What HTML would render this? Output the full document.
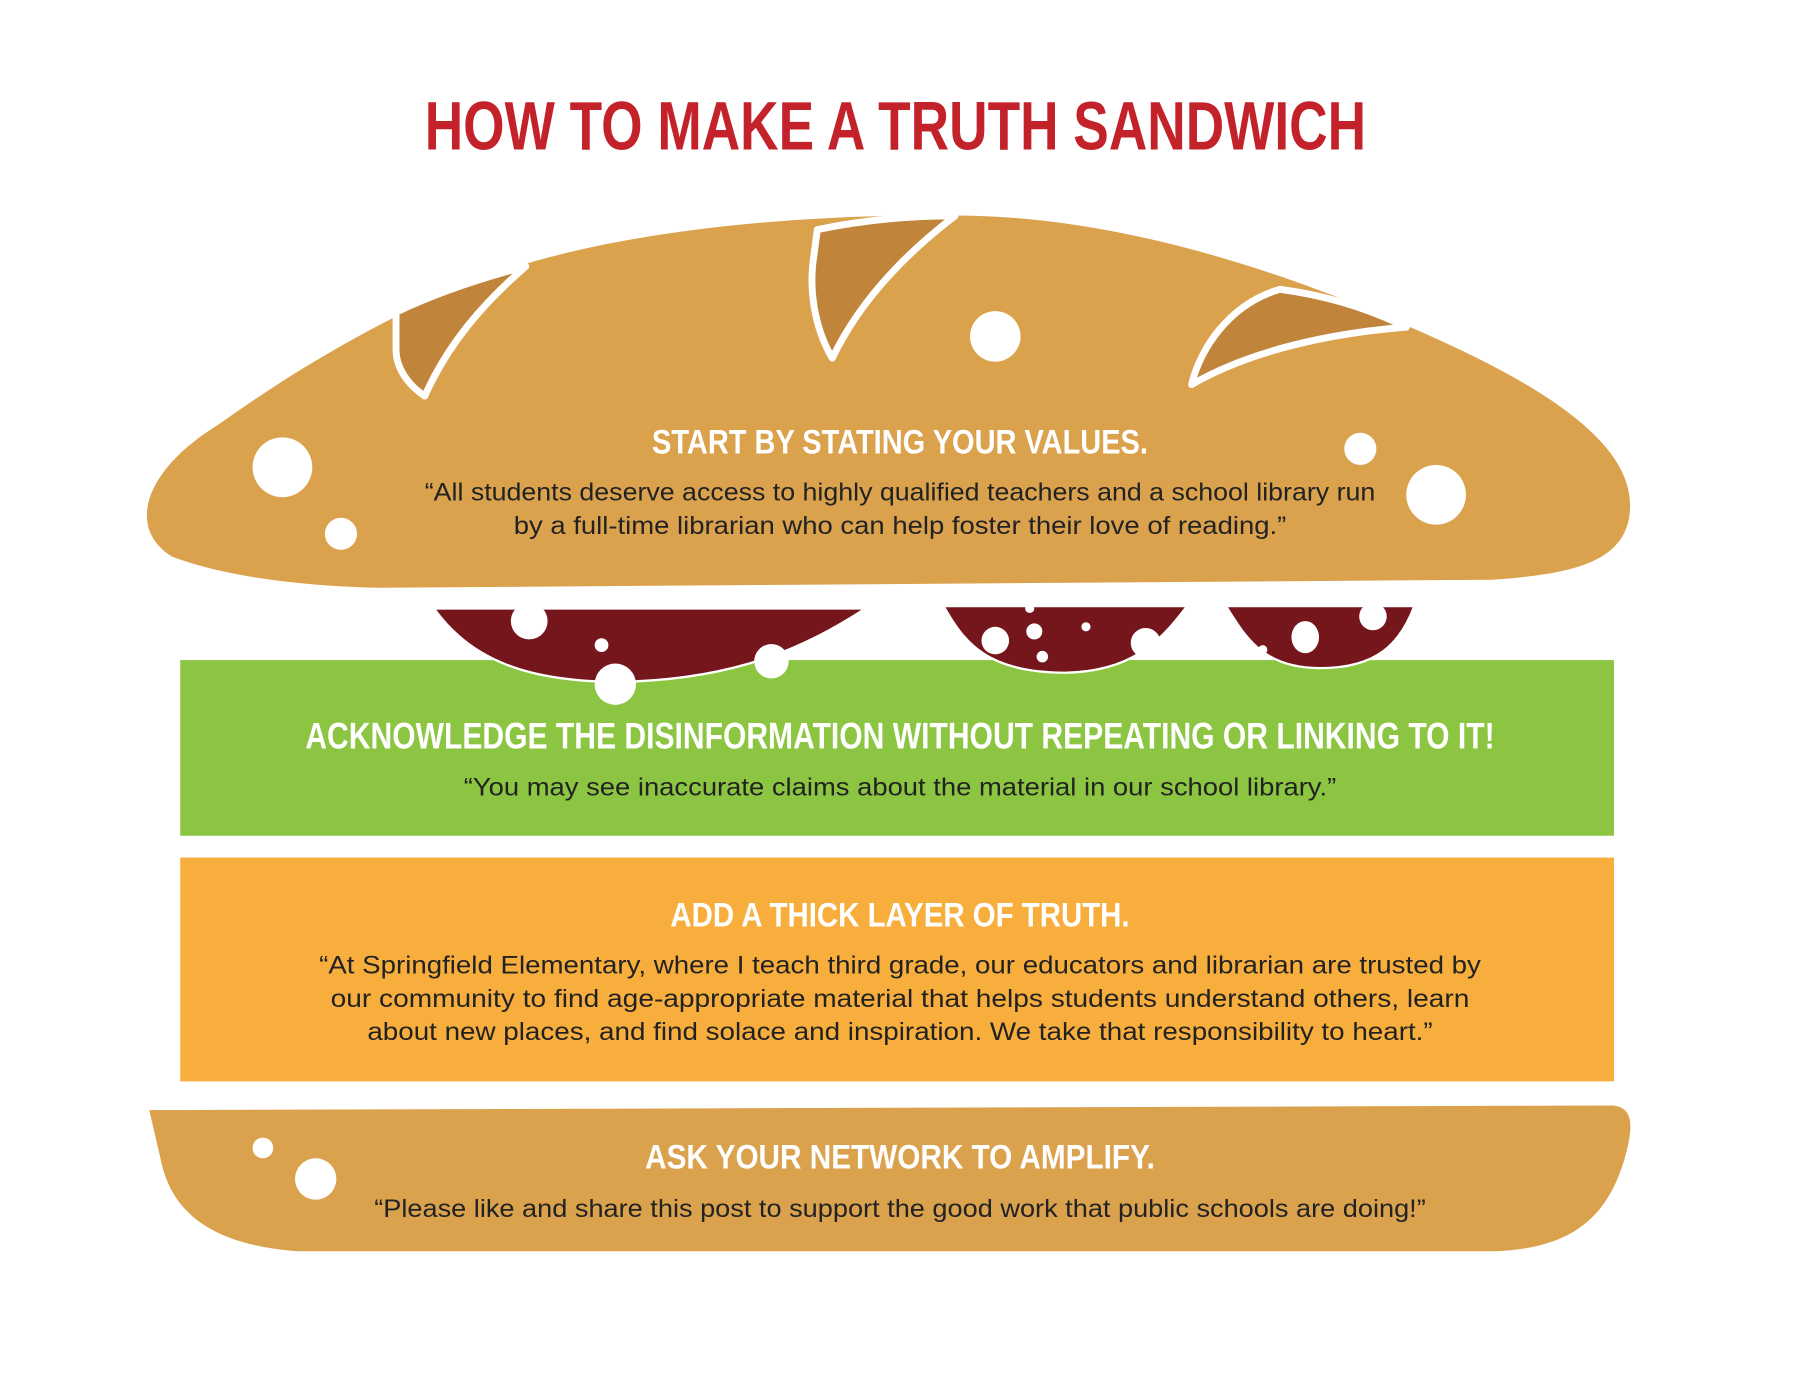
<!DOCTYPE html>
<html><head><meta charset="utf-8"><style>
html,body{margin:0;padding:0;background:#fff;}
svg{display:block;}
.h{font-family:"Liberation Sans Narrow","Liberation Sans",sans-serif;font-weight:bold;fill:#fff;text-anchor:middle;}
.q{font-family:"Liberation Sans",sans-serif;fill:#222;text-anchor:middle;font-size:22px;}
</style></head><body>
<svg width="1800" height="1373" viewBox="0 0 1568 1196" xmlns="http://www.w3.org/2000/svg">
<rect width="1568" height="1196" fill="#fff"/>
<text x="780" y="130" font-family="'Liberation Sans Narrow','Liberation Sans',sans-serif" font-weight="bold" font-size="60" fill="#c4222a" text-anchor="middle" textLength="820" lengthAdjust="spacingAndGlyphs">HOW TO MAKE A TRUTH SANDWICH</text>

<!-- top bread -->
<path d="M150,485 C110,460 125,410 190,370 C260,320 330,280 400,250 C520,200 700,185 850,188 C1000,192 1150,250 1240,290 C1330,330 1420,380 1420,440 C1420,490 1370,500 1300,505 L330,512 C250,510 190,500 150,485 Z" fill="#dba24e"/>
<g fill="#c0843a" stroke="#fff" stroke-width="6" stroke-linejoin="round">
<path d="M345,272 C380,255 420,242 458,232 C420,265 390,300 370,345 C355,335 345,320 345,305 Z"/>
<path d="M712,200 C750,192 790,188 832,188 C790,220 750,260 725,312 C712,290 705,260 708,230 Z"/>
<path d="M1038,335 C1045,305 1070,265 1115,252 C1160,258 1195,270 1225,285 C1160,290 1090,305 1038,335 Z"/>
</g>
<g fill="#fff">
<circle cx="867" cy="293" r="22"/><circle cx="246" cy="407" r="26"/><circle cx="297" cy="465" r="14"/><circle cx="1185" cy="391" r="14"/><circle cx="1251" cy="431" r="26"/>
</g>
<text class="h" x="784" y="395" font-size="30" textLength="432" lengthAdjust="spacingAndGlyphs">START BY STATING YOUR VALUES.</text>
<text class="q" x="784" y="436" textLength="828" lengthAdjust="spacingAndGlyphs">“All students deserve access to highly qualified teachers and a school library run</text>
<text class="q" x="784" y="465" textLength="673" lengthAdjust="spacingAndGlyphs">by a full-time librarian who can help foster their love of reading.”</text>

<!-- green -->
<rect x="157" y="575" width="1249" height="153" fill="#8bc541"/>

<!-- meat -->
<g fill="#74161b" stroke="#fff" stroke-width="2">
<path d="M378,530 L754,530 C700,565 640,592 540,594 C460,594 410,575 378,530 Z"/>
<path d="M822,528 L1034,528 C1010,560 985,585 928,586 C860,586 840,560 822,528 Z"/>
<path d="M1068,528 L1232,528 C1220,560 1200,582 1150,582 C1100,582 1085,555 1068,528 Z"/>
</g>
<g fill="#fff">
<circle cx="461" cy="541" r="16"/><circle cx="524" cy="562" r="6"/><circle cx="672" cy="576" r="15"/>
<circle cx="867" cy="558" r="12"/><circle cx="901" cy="550" r="7"/><circle cx="908" cy="572" r="5"/><circle cx="946" cy="546" r="4"/><circle cx="998" cy="560" r="13"/><circle cx="897" cy="530" r="4"/>
<ellipse cx="1137" cy="555" rx="12" ry="14"/><circle cx="1196" cy="537" r="12"/><circle cx="1100" cy="566" r="4"/>
<circle cx="536" cy="596" r="18"/>
</g>

<text class="h" x="784" y="652" font-size="32" textLength="1036" lengthAdjust="spacingAndGlyphs">ACKNOWLEDGE THE DISINFORMATION WITHOUT REPEATING OR LINKING TO IT!</text>
<text class="q" x="784" y="693" textLength="760" lengthAdjust="spacingAndGlyphs">“You may see inaccurate claims about the material in our school library.”</text>

<!-- orange -->
<rect x="157" y="747" width="1249" height="195" fill="#f8ae3c"/>
<text class="h" x="784" y="807" font-size="30" textLength="400" lengthAdjust="spacingAndGlyphs">ADD A THICK LAYER OF TRUTH.</text>
<text class="q" x="784" y="848" textLength="1012" lengthAdjust="spacingAndGlyphs">“At Springfield Elementary, where I teach third grade, our educators and librarian are trusted by</text>
<text class="q" x="784" y="877" textLength="992" lengthAdjust="spacingAndGlyphs">our community to find age-appropriate material that helps students understand others, learn</text>
<text class="q" x="784" y="906" textLength="928" lengthAdjust="spacingAndGlyphs">about new places, and find solace and inspiration. We take that responsibility to heart.”</text>

<!-- bottom bread -->
<path d="M130,967 L1405,963 C1425,965 1422,985 1415,1010 C1400,1060 1370,1088 1300,1090 L260,1090 C190,1085 150,1060 140,1010 Z" fill="#dba24e"/>
<circle cx="229" cy="1000" r="9" fill="#fff"/><circle cx="275" cy="1027" r="18" fill="#fff"/>
<text class="h" x="784" y="1018" font-size="30" textLength="444" lengthAdjust="spacingAndGlyphs">ASK YOUR NETWORK TO AMPLIFY.</text>
<text class="q" x="784" y="1060" textLength="916" lengthAdjust="spacingAndGlyphs">“Please like and share this post to support the good work that public schools are doing!”</text>
</svg>
</body></html>
